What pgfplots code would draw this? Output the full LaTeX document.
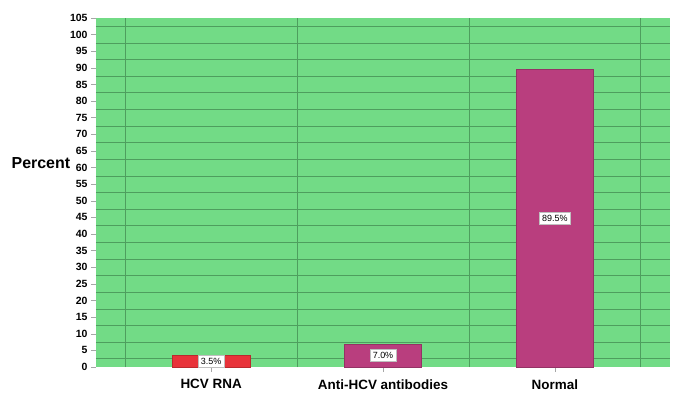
\documentclass[border=0pt]{standalone}
\usepackage{pgfplots}
\pgfplotsset{compat=1.18}
\usepackage{fontspec}
\setmainfont{Liberation Sans}
\definecolor{bggreen}{HTML}{72DB86}
\definecolor{gridgreen}{HTML}{4E9E5E}
\definecolor{barred}{HTML}{E8333A}
\definecolor{barmag}{HTML}{B93E7E}
\begin{document}
\begin{tikzpicture}[x=1bp,y=1bp]
\begin{axis}[
  at={(0,0)}, anchor=south west,
  scale only axis,
  width=574bp, height=349bp,
  xmin=0.33, xmax=3.67,
  ymin=0, ymax=105,
  ytick={0,5,...,105},
  xtick={1,2,3},
  xticklabels={HCV RNA, Anti-HCV antibodies, Normal},
  minor xtick={0.5,1.5,2.5,3.5},
  minor ytick={2.5,7.5,...,102.5},
  xminorgrids, yminorgrids,
  minor grid style={gridgreen, line width=0.6pt},
  minor tick length=0pt,
  major tick length=5bp,
  tick align=outside,
  tickpos=left,
  tick style={gray!70, line width=0.5pt},
  axis line style={draw=none},
  axis background/.style={fill=bggreen},
  yticklabel style={font=\fontsize{10.5}{12}\selectfont\bfseries},
  xticklabel style={font=\fontsize{13.5}{15}\selectfont\bfseries, yshift=-4bp},
  /pgf/number format/assume math mode=true,
  ylabel={Percent},
  ylabel style={rotate=-90, at={(axis description cs:-0.096,0.585)}, anchor=center, font=\fontsize{16}{18}\selectfont\bfseries},
  ybar, bar width=0.45, bar shift=0pt,
  clip=false,
]
\addplot[fill=barred, draw=barred!80!black] coordinates {(1,3.5)};
\addplot[fill=barmag, draw=barmag!80!black] coordinates {(2,7.0)};
\addplot[fill=barmag, draw=barmag!80!black] coordinates {(3,89.5)};
\addplot[draw=none, fill=none, nodes near coords, point meta=explicit symbolic,
  every node near coord/.style={fill=white, draw=gray!50, inner sep=3bp, anchor=center, font=\fontsize{9}{10}\selectfont}]
  coordinates {(1,1.75)[3.5\%] (2,3.5)[7.0\%] (3,44.75)[89.5\%]};
\end{axis}
\path[use as bounding box] (-96bp,-45bp) rectangle (589bp,367bp);
\end{tikzpicture}
\end{document}
